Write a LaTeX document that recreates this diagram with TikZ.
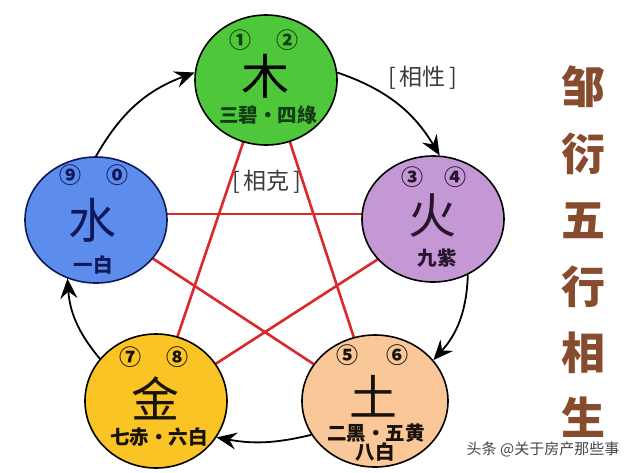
\documentclass[tikz,border=0pt]{standalone}
\usepackage{fontspec}
\newfontfamily\cjk{Noto Sans CJK SC}
\usetikzlibrary{shapes.geometric,arrows.meta}
\definecolor{mucol}{RGB}{78,200,58}
\definecolor{huocol}{RGB}{196,152,212}
\definecolor{shuicol}{RGB}{92,140,236}
\definecolor{jincol}{RGB}{250,196,36}
\definecolor{tucol}{RGB}{250,200,152}
\definecolor{redline}{RGB}{218,40,45}
\definecolor{mutext}{RGB}{20,60,20}
\definecolor{shuitext}{RGB}{15,25,90}
\definecolor{huotext}{RGB}{40,20,45}
\definecolor{darktext}{RGB}{25,18,10}
\definecolor{titlecol}{RGB}{135,75,45}
\definecolor{graytext}{RGB}{60,60,60}
\definecolor{wmtext}{RGB}{70,70,70}
\begin{document}
\begin{tikzpicture}[x=1pt,y=-1pt,
  el/.style={ellipse, draw=black, line width=1.6pt, inner sep=0pt},
  starline/.style={draw=redline, line width=2.6pt},
  flow/.style={draw=black, line width=1.8pt, -{Stealth[length=20pt,width=17pt,inset=7pt]}},
  num/.style={font=\cjk\bfseries\fontsize{22}{22}\selectfont, inner sep=0pt},
  big/.style={font=\cjk\fontsize{48}{48}\selectfont, inner sep=0pt},
  lab/.style={font=\cjk\bfseries\fontsize{19.5}{19.5}\selectfont, inner sep=0pt},
  brk/.style={font=\cjk\fontsize{23}{23}\selectfont, inner sep=0pt, text=graytext},
  ttl/.style={font=\cjk\bfseries\fontsize{44}{44}\selectfont, inner sep=0pt, text=titlecol},
  wm/.style={font=\cjk\fontsize{15}{15}\selectfont, inner sep=0pt, text=wmtext}]
\fill[white] (0,0) rectangle (640,472);
\useasboundingbox (0,0) rectangle (640,472);

% pentagram points
\coordinate (s1) at (267,72);
\coordinate (s2) at (448,214);
\coordinate (s3) at (376,405);
\coordinate (s4) at (155,403);
\coordinate (s5) at (85,214);
\draw[starline] (s1) -- (s4);
\draw[starline] (s1) -- (s3);
\draw[starline] (s5) -- (s2);
\draw[starline] (s5) -- (s3);
\draw[starline] (s2) -- (s4);

% circles
\node[el, fill=mucol, minimum width=142pt, minimum height=130pt] (mu) at (266,80) {};
\node[el, fill=huocol, minimum width=142pt, minimum height=126pt] (huo) at (433,219) {};
\node[el, fill=shuicol, draw=shuitext, minimum width=142pt, minimum height=126pt] (shui) at (96,220) {};
\node[el, fill=jincol, minimum width=142pt, minimum height=134pt] (jin) at (156,401) {};
\node[el, fill=tucol, minimum width=146pt, minimum height=132pt] (tu) at (375,401) {};

% generating cycle
\draw[flow] (shui.90) to[bend left=20] (mu.174);
\draw[flow] (mu.6) to[bend left=20] (huo.84);
\draw[flow] (huo.-58) to[bend left=20] (tu.35);
\draw[flow] (tu.208) to[bend left=12] (jin.-31);
\draw[flow] (jin.143) to[bend left=18] (shui.244);

% wood
\node[num, text=mutext] (mu1) at (240,40) {①};
\node[num, text=mutext] (mu2) at (287,40) {②};
\node[big, text=black] (muc) at (265,76) {木};
\node[lab, text=mutext] (mul) at (268,115) {三碧・四綠};
% fire
\node[num, text=huotext] (huo1) at (412,177) {③};
\node[num, text=huotext] (huo2) at (455,177) {④};
\node[big, text=huotext] (huoc) at (432,216) {火};
\node[lab, text=huotext] (huol) at (437,258) {九紫};
% water
\node[num, text=shuitext] (shui1) at (70,175) {⑨};
\node[num, text=shuitext] (shui2) at (117,175) {⓪};
\node[big, text=shuitext] (shuic) at (92,220) {水};
\node[lab, text=shuitext] (shuil) at (93,265) {一白};
% metal
\node[num, text=darktext] (jin1) at (130,357) {⑦};
\node[num, text=darktext] (jin2) at (177,357) {⑧};
\node[big, text=darktext] (jinc) at (155,398) {金};
\node[lab, text=darktext] (jinl) at (159,437) {七赤・六白};
% earth
\node[num, text=darktext] (tu1) at (347,355) {⑤};
\node[num, text=darktext] (tu2) at (397,355) {⑥};
\node[big, text=darktext] (tuc) at (373,396) {土};
\node[lab, text=darktext] (tul) at (376,433) {二黑・五黄};
\node[lab, text=darktext] (tul2) at (375,452) {八白};

% labels
\node[brk] (xs) at (423,78) {[\,相性\,]};
\node[brk] (xk) at (267,182) {[\,相克\,]};

% title
\node[ttl] (t1) at (583,87) {邹};
\node[ttl] (t2) at (583,154) {衍};
\node[ttl] (t3) at (583,221) {五};
\node[ttl] (t4) at (583,287) {行};
\node[ttl] (t5) at (583,353) {相};
\node[ttl] (t6) at (583,417) {生};

% watermark
\node[wm] (wmk) at (543,449) {头条 @关于房产那些事};
\end{tikzpicture}
\end{document}
